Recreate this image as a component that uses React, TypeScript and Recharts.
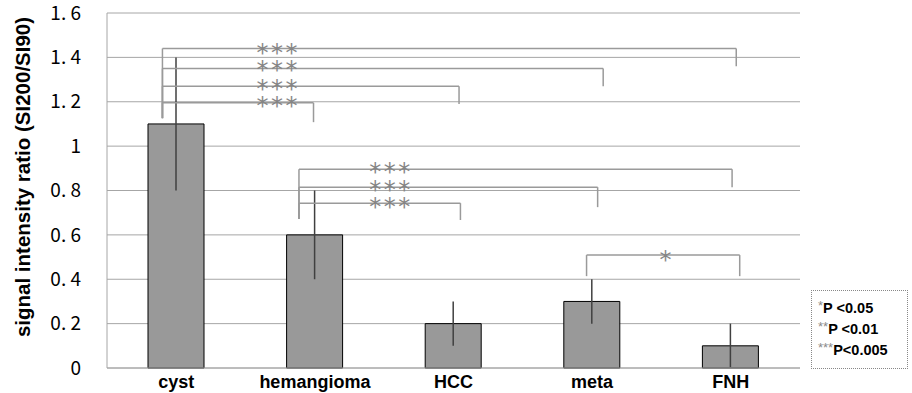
import React from 'react';
import { ComposedChart, Bar, ErrorBar, XAxis, YAxis, CartesianGrid, ReferenceLine, ReferenceDot } from 'recharts';

const categories = ['cyst', 'hemangioma', 'HCC', 'meta', 'FNH'];
const means = [1.1, 0.6, 0.2, 0.3, 0.1];
const errors = [0.3, 0.2, 0.1, 0.1, 0.1];
const yTicks = [0, 0.2, 0.4, 0.6, 0.8, 1, 1.2, 1.4, 1.6];

// brackets: [fromIndex, fromOffset, toIndex, toOffset, level, leftBottom, rightBottom]
const brackets: [number, number, number, number, number, number, number][] = [
  [0, -0.1, 4, 0.04, 1.44, 1.126, 1.36],
  [0, -0.1, 3, 0.08, 1.35, 1.126, 1.27],
  [0, -0.1, 2, 0.04, 1.27, 1.126, 1.19],
  [0, -0.1, 1, -0.01, 1.195, 1.126, 1.108],
  [1, -0.115, 4, 0.01, 0.896, 0.671, 0.815],
  [1, -0.115, 3, 0.04, 0.815, 0.671, 0.725],
  [1, -0.115, 2, 0.05, 0.743, 0.671, 0.667],
  [3, -0.04, 4, 0.065, 0.509, 0.414, 0.414],
];
// star labels: [x (category units), level, text]
const stars: [number, number, string][] = [
  [0.727, 1.44, '***'],
  [0.727, 1.36, '***'],
  [0.727, 1.275, '***'],
  [0.727, 1.2, '***'],
  [1.54, 0.9, '***'],
  [1.54, 0.82, '***'],
  [1.54, 0.745, '***'],
  [3.53, 0.505, '*'],
];
const legendItems = [
  ['*', 'P <0.05'],
  ['**', 'P <0.01'],
  ['***', 'P<0.005'],
];

const data = categories.map((c, i) => ({ x: i, name: c, value: means[i], err: errors[i] }));

const bracketColor = '#9a9a9a';
const starColor = '#858585';

const fmtY = (v: number) => {
  if (v === 0) return '0';
  if (v === 1) return '1';
  return v.toFixed(1).replace('.', '. ');
};

export default function App() {
  return (
    <div style={{ position: 'absolute', left: 0, top: 0, width: 912, height: 393, background: '#fff' }}>
      <ComposedChart width={912} height={393} data={data} margin={{ top: 13, right: 112, bottom: 0, left: 0 }}>
        <CartesianGrid horizontal vertical={false} stroke="#a6a6a6" />
        <XAxis
          dataKey="x"
          type="number"
          domain={[-0.5, 4.5]}
          ticks={[0, 1, 2, 3, 4]}
          tickFormatter={(i: number) => categories[i]}
          height={25}
          tickLine={false}
          axisLine={{ stroke: '#a6a6a6' }}
          tickMargin={1}
          tick={{ fill: '#000', fontSize: 18, fontWeight: 'bold', fontFamily: 'Liberation Sans, Arial, sans-serif' }}
        />
        <YAxis
          type="number"
          domain={[0, 1.6]}
          ticks={yTicks}
          tickFormatter={fmtY}
          width={107}
          tickLine={false}
          tickMargin={20}
          axisLine={{ stroke: '#a6a6a6' }}
          tick={{ fill: '#000', fontSize: 19, fontFamily: 'Noto Sans CJK JP, sans-serif' }}
          label={{
            content: () => (
              <text
                x={22}
                y={177}
                transform="rotate(-90 22 177)"
                textAnchor="middle"
                dominantBaseline="central"
                fontSize={20.5}
                fontWeight="bold"
                fontFamily="Liberation Sans, Arial, sans-serif"
                fill="#000"
              >
                signal intensity ratio (SI200/SI90)
              </text>
            ),
          }}
        />
        <Bar dataKey="value" barSize={56} fill="#999999" stroke="#000" strokeWidth={1} isAnimationActive={false}>
          <ErrorBar dataKey="err" width={0} stroke="#404040" strokeWidth={1.5} direction="y" />
        </Bar>
        {brackets.map((b, i) => {
          const [f, fo, t, to, lvl, lb, rb] = b;
          return (
            <React.Fragment key={i}>
              <ReferenceLine
                segment={[{ x: f + fo, y: lvl }, { x: t + to, y: lvl }]}
                stroke={bracketColor}
                strokeWidth={1.5}
              />
              <ReferenceLine
                segment={[{ x: f + fo, y: lvl }, { x: f + fo, y: lb }]}
                stroke={bracketColor}
                strokeWidth={1.5}
              />
              <ReferenceLine
                segment={[{ x: t + to, y: lvl }, { x: t + to, y: rb }]}
                stroke={bracketColor}
                strokeWidth={1.5}
              />
            </React.Fragment>
          );
        })}
        {stars.map((s, i) => (
          <ReferenceDot
            key={'s' + i}
            x={s[0]}
            y={s[1]}
            r={0}
            fill="none"
            stroke="none"
            label={{
              content: (p: any) => {
                const vb = p.viewBox || {};
                const cx = (vb.x ?? 0) + (vb.width ?? 0) / 2;
                const cy = (vb.y ?? 0) + (vb.height ?? 0) / 2;
                return (
                  <text
                    x={cx + 1.25}
                    y={cy + 4}
                    textAnchor="middle"
                    dominantBaseline="central"
                    fontSize={24}
                    letterSpacing={2.5}
                    fill={starColor}
                    fontFamily="DejaVu Sans, sans-serif"
                  >
                    {s[2]}
                  </text>
                );
              },
            }}
          />
        ))}
      </ComposedChart>
      <div
        style={{
          position: 'absolute',
          left: 811,
          top: 290,
          width: 97,
          height: 79,
          border: '1px dotted #888',
          fontFamily: 'Liberation Sans, Arial, sans-serif',
          fontWeight: 'bold',
          fontSize: 14.5,
          color: '#000',
          boxSizing: 'border-box',
          paddingLeft: 6,
          paddingTop: 7,
          lineHeight: '21px',
        }}
      >
        {legendItems.map((it, i) => (
          <div key={i} style={{ whiteSpace: 'nowrap' }}>
            <span style={{ color: '#8a8a8a', fontWeight: 'normal', fontSize: 13, verticalAlign: 'top', lineHeight: '16px' }}>{it[0]}</span>
            {it[1]}
          </div>
        ))}
      </div>
    </div>
  );
}
